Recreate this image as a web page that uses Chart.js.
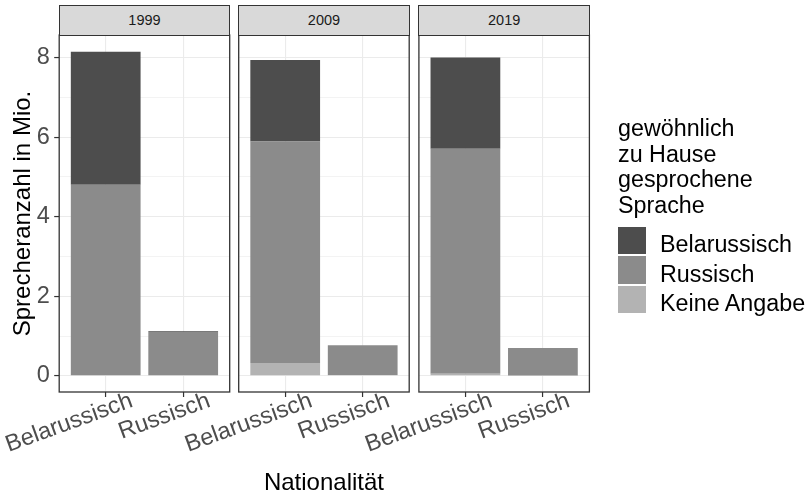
<!DOCTYPE html>
<html><head><meta charset="utf-8">
<script src="https://cdn.jsdelivr.net/npm/chart.js@4"></script>
<style>
body{margin:0;background:#fff;width:811px;height:497px;overflow:hidden;position:relative;font-family:"Liberation Sans",Arial,sans-serif;}
canvas{position:absolute;left:0;top:0;}
.strip{position:absolute;top:4.5px;height:31px;background:#D9D9D9;border:1.3px solid #333;box-sizing:border-box;text-align:center;line-height:28px;font-size:14.5px;color:#1A1A1A;}
.lt{position:absolute;left:618px;font-size:23.3px;line-height:25.7px;color:#000;white-space:nowrap;}
.key{position:absolute;left:618.3px;width:27.8px;height:27.8px;}
.kt{position:absolute;left:660px;font-size:23.3px;line-height:25.7px;color:#000;white-space:nowrap;}
</style></head><body>
<script>
// ---- data ----
const years = ['1999', '2009', '2019'];
const nationalities = ['Belarussisch', 'Russisch'];
const languages = ['Belarussisch', 'Russisch', 'Keine Angabe'];
const legendTitle = ['gewöhnlich', 'zu Hause', 'gesprochene', 'Sprache'];
const yTitle = 'Sprecheranzahl in Mio.';
const xTitle = 'Nationalität';

const belarussisch1999 = [3.35, 0.02];
const russisch1999     = [4.80, 1.10];
const keineAngabe1999  = [0.00, 0.00];

const belarussisch2009 = [2.05, 0.00];
const russisch2009     = [5.57, 0.75];
const keineAngabe2009  = [0.32, 0.02];

const belarussisch2019 = [2.29, 0.00];
const russisch2019     = [5.66, 0.69];
const keineAngabe2019  = [0.05, 0.01];

const yGridValues = [0, 1, 2, 3, 4, 5, 6, 7, 8];
const yTickLabels = [0, 2, 4, 6, 8];

// ---- style ----
const fills = {'Belarussisch': '#4D4D4D', 'Russisch': '#8B8B8B', 'Keine Angabe': '#B3B3B3'};
const W = 811, H = 497;
const panelLefts = [59.2, 238.7, 418.9];
const panelW = 170.5;
const panelTop = 35, panelBottom = 392;

const panelData = [
  {'Belarussisch': belarussisch1999, 'Russisch': russisch1999, 'Keine Angabe': keineAngabe1999},
  {'Belarussisch': belarussisch2009, 'Russisch': russisch2009, 'Keine Angabe': keineAngabe2009},
  {'Belarussisch': belarussisch2019, 'Russisch': russisch2019, 'Keine Angabe': keineAngabe2019}
];

const panelBorder = {
  id: 'panelBorder',
  afterDraw(chart) {
    const {ctx, chartArea: a} = chart;
    ctx.save();
    ctx.strokeStyle = '#333333';
    ctx.lineWidth = 1.3;
    ctx.strokeRect(a.left, a.top, a.right - a.left, a.bottom - a.top);
    ctx.restore();
  }
};

years.forEach((yr, i) => {
  const cv = document.createElement('canvas');
  cv.width = W; cv.height = H;
  cv.style.width = W + 'px'; cv.style.height = H + 'px';
  document.body.appendChild(cv);
  const left = panelLefts[i], right = left + panelW;
  const stackOrder = ['Keine Angabe', 'Russisch', 'Belarussisch'];
  const datasets = stackOrder.map(lang => ({
    label: lang,
    data: panelData[i][lang].map((v, j) => ({x: j, y: v})),
    backgroundColor: fills[lang],
    borderWidth: 0
  }));
  new Chart(cv, {
    type: 'bar',
    data: {datasets},
    plugins: [panelBorder],
    options: {
      responsive: false, animation: false, events: [],
      layout: {padding: {left: i === 0 ? 0 : left, right: W - right, top: panelTop, bottom: 0}},
      plugins: {legend: {display: false}, tooltip: {enabled: false}},
      datasets: {bar: {categoryPercentage: 1, barPercentage: 0.9}},
      scales: {
        x: {
          type: 'linear', stacked: true, min: -0.6, max: 1.6, offset: false,
          afterBuildTicks: s => { s.ticks = nationalities.map((n, j) => ({value: j})); },
          afterFit: s => { s.height = H - panelBottom; s.paddingLeft = 0; s.paddingRight = 0; },
          ticks: {
            autoSkip: false, minRotation: 20, maxRotation: 20,
            callback: v => nationalities[v],
            font: {family: 'Liberation Sans', size: 23.5}, color: '#4D4D4D',
            padding: -10, labelOffset: 26
          },
          grid: {offset: false, color: '#EBEBEB', lineWidth: 1.1, tickColor: '#333333', tickLength: 5, tickWidth: 1.2},
          border: {display: false},
          title: {
            display: true, text: xTitle,
            color: i === 1 ? '#000000' : 'rgba(0,0,0,0)',
            font: {family: 'Liberation Sans', size: 24, lineHeight: 1.1},
            padding: 0
          }
        },
        y: {
          type: 'linear', stacked: true, min: -0.408, max: 8.568,
          afterBuildTicks: s => { s.ticks = yGridValues.map(v => ({value: v})); },
          afterFit: s => { s.width = i === 0 ? left : 0; },
          ticks: {
            display: i === 0,
            callback: v => yTickLabels.includes(v) ? String(v) : '',
            font: {family: 'Liberation Sans', size: 23.5}, color: '#4D4D4D',
            padding: 4.5
          },
          grid: {
            color: '#EBEBEB',
            lineWidth: c => (c.tick && yTickLabels.includes(c.tick.value)) ? 1.1 : 0.6,
            drawTicks: i === 0,
            tickColor: c => (c.tick && yTickLabels.includes(c.tick.value)) ? '#333333' : 'rgba(0,0,0,0)',
            tickLength: 5, tickWidth: 1.2
          },
          border: {display: false},
          title: {
            display: i === 0, text: yTitle, color: '#000000',
            font: {family: 'Liberation Sans', size: 24, lineHeight: 1.2},
            padding: 9
          }
        }
      }
    }
  });
  const st = document.createElement('div');
  st.className = 'strip';
  st.style.left = (left - 0.65) + 'px';
  st.style.width = (panelW + 1.3) + 'px';
  st.textContent = yr;
  document.body.appendChild(st);
});

// legend (HTML, built from the arrays)
legendTitle.forEach((t, k) => {
  const d = document.createElement('div');
  d.className = 'lt';
  d.style.top = (116 + k * 25.7) + 'px';
  d.textContent = t;
  document.body.appendChild(d);
});
languages.forEach((lang, k) => {
  const top = 226.6 + k * 29.5;
  const key = document.createElement('div');
  key.className = 'key';
  key.style.top = top + 'px';
  key.style.background = fills[lang];
  document.body.appendChild(key);
  const t = document.createElement('div');
  t.className = 'kt';
  t.style.top = (top + 5.7) + 'px';
  t.textContent = lang;
  document.body.appendChild(t);
});
</script>
</body></html>
